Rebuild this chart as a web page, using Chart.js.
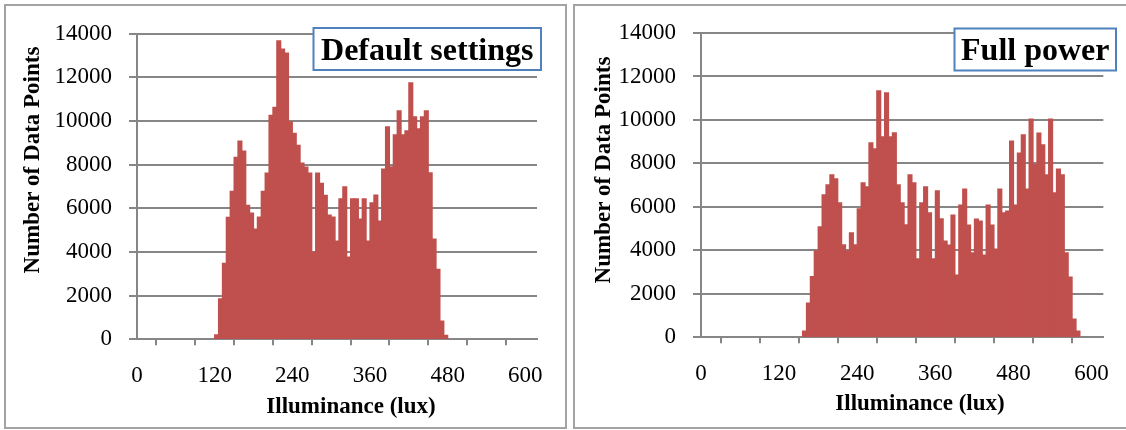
<!DOCTYPE html>
<html><head><meta charset="utf-8">
<script src="https://cdn.jsdelivr.net/npm/chart.js@4/dist/chart.umd.min.js"></script>
<style>
html,body{margin:0;padding:0;background:#fff;width:1126px;height:430px;overflow:hidden;position:relative;}
.frame{position:absolute;border:2px solid #a3a3a3;box-sizing:border-box;}
#f1{left:4px;top:4px;width:563px;height:425px;}
#f2{left:573px;top:4px;width:600px;height:425px;}
canvas{position:absolute;top:0;}
#c1{left:0;}
#c2{left:570px;}
</style></head><body>
<div class="frame" id="f1"></div><div class="frame" id="f2"></div>
<canvas id="c1" width="567" height="430"></canvas>
<canvas id="c2" width="556" height="430"></canvas>
<script>
// ---- data (histogram bins: lower edge in lux, counts) ----
const binWidth = 6;
const defaultBins = [120,126,132,138,144,150,156,162,168,174,180,186,192,198,204,210,216,222,228,234,240,246,252,258,264,270,276,282,288,294,300,306,312,318,324,330,336,342,348,354,360,366,372,378,384,390,396,402,408,414,420,426,432,438,444,450,456,462,468,474];
const defaultCounts = [200,1850,3480,5590,6780,8340,9080,8620,6140,5780,5050,5600,6780,7610,10260,10630,13670,13300,13110,9960,9440,8890,8070,7890,7610,4000,7610,7150,6600,5690,5600,4500,6430,6980,3770,6430,6430,5510,6430,4500,6250,6610,5420,7800,9730,7900,9370,10470,9370,9550,11750,10190,9640,10190,10470,7620,4590,3210,830,180];
const fullBins = [156,162,168,174,180,186,192,198,204,210,216,222,228,234,240,246,252,258,264,270,276,282,288,294,300,306,312,318,324,330,336,342,348,354,360,366,372,378,384,390,396,402,408,414,420,426,432,438,444,450,456,462,468,474,480,486,492,498,504,510,516,522,528,534,540,546,552,558,564,570,576];
const fullCounts = [280,1570,2790,3980,5080,6550,7010,7470,7290,6190,4250,3980,4810,4250,5910,7110,6920,8950,8670,11340,9220,11250,9220,9410,7010,6190,5170,7470,7110,3610,6190,6920,5730,3610,6740,5450,4430,4240,5620,2860,6080,6820,5160,3880,5440,5350,3780,6080,5160,4060,6820,5720,5810,9030,6080,8480,9310,6820,10040,7950,9400,8850,7470,10040,6640,7740,7470,3880,2770,840,290];
const xTickLabels = [0,120,240,360,480,600];
const yTickLabels = [0,2000,4000,6000,8000,10000,12000,14000];
const xTitleText = 'Illuminance (lux)';
const yTitleText = 'Number of Data Points';
const panelTitles = ['Default settings','Full power'];

const GRID = '#868686';
const FONT = 'Liberation Serif';

const decor = {
  id:'decor',
  afterDraw(chart, args, o){
    const ctx = chart.ctx;
    ctx.save();
    const b = o.box;
    ctx.fillStyle='#fff'; ctx.fillRect(b.x,b.y,b.w,b.h);
    ctx.strokeStyle='#4F81BD'; ctx.lineWidth=2; ctx.strokeRect(b.x,b.y,b.w,b.h);
    ctx.fillStyle='#000'; ctx.textAlign='center'; ctx.textBaseline='alphabetic';
    ctx.font='bold 32px "'+FONT+'"';
    ctx.fillText(b.text, b.x+b.w/2, b.baseline);
    ctx.font='bold 23px "'+FONT+'"';
    ctx.fillText(xTitleText, o.xt.x, o.xt.y);
    ctx.translate(o.yt.x, o.yt.y); ctx.rotate(-Math.PI/2);
    ctx.fillText(yTitleText, 0, 0);
    ctx.restore();
  }
};

function makeChart(id, bins, counts, g){
  const pts = bins.map((b,i)=>({x:b+binWidth/2, y:counts[i]}));
  return new Chart(document.getElementById(id), {
    type:'bar',
    data:{datasets:[{data:pts, backgroundColor:'#C0504D', borderWidth:0, inflateAmount:0.6, barPercentage:1, categoryPercentage:1}]},
    options:{
      responsive:false, animation:false,
      layout:{padding:{top:g.top, right:g.right, bottom:0, left:0}},
      plugins:{legend:{display:false}, tooltip:{enabled:false}, decor:g.decor},
      scales:{
        x:{type:'linear', min:0, max:618, offset:false,
          ticks:{stepSize:60, includeBounds:false, autoSkip:false, maxRotation:0, padding:16.5, color:'#000',
            font:{family:FONT, size:23},
            callback:v=> xTickLabels.includes(v) ? String(v) : ''},
          grid:{display:true, drawOnChartArea:false, drawTicks:true, tickLength:6, color:GRID, lineWidth:2},
          border:{display:true, color:GRID, width:2},
          afterFit:s=>{s.height=g.xh;}
        },
        y:{min:0, max:14000,
          ticks:{stepSize:2000, padding:17, color:'#000', font:{family:FONT, size:23},
            callback:v=> yTickLabels.includes(v) ? String(v) : ''},
          grid:{color:GRID, lineWidth:2, tickLength:8, drawTicks:true},
          border:{display:true, color:GRID, width:2},
          afterFit:s=>{s.width=g.yw;}
        }
      }
    },
    plugins:[decor]
  });
}

makeChart('c1', defaultBins, defaultCounts, {
  top:33.7, right:30, xh:90.7, yw:137,
  decor:{box:{x:313.5,y:28,w:227.5,h:42,text:panelTitles[0],baseline:60},
         xt:{x:351,y:413}, yt:{x:38.5,y:160}}
});
makeChart('c2', fullBins, fullCounts, {
  top:33, right:21.5, xh:92.7, yw:131,
  decor:{box:{x:384.5,y:28.5,w:161.5,h:42,text:panelTitles[1],baseline:60},
         xt:{x:350,y:410}, yt:{x:39.5,y:170}}
});
</script>
</body></html>
